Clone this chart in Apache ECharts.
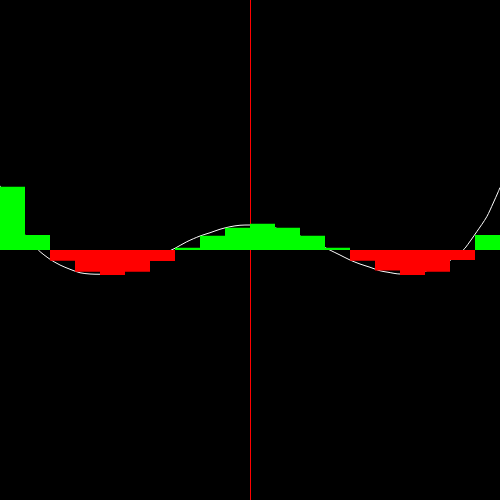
<!DOCTYPE html>
<html>
<head>
<meta charset="utf-8">
<script src="https://cdn.jsdelivr.net/npm/echarts@6/dist/echarts.min.js"></script>
<style>html,body{margin:0;padding:0;background:#000;}#c{width:500px;height:500px;}</style>
</head>
<body>
<div id="c"></div>
<script>
var barCats = ['-10','-9','-8','-7','-6','-5','-4','-3','-2','-1','0','1','2','3','4','5','6','7','8','9'];
var barValues = [2.53, 0.6, -0.43, -0.87, -1.0, -0.87, -0.44, 0.09, 0.57, 0.89, 1.05, 0.89, 0.57, 0.09, -0.43, -0.82, -1.0, -0.87, -0.4, 0.6];
var curveX = [-10, -9.5, -9, -8.47, -8, -7.6, -7.2, -6.8, -6.4, -6, -5.5, -5, -4.5, -4, -3.5, -3, -2.53, -2, -1.6, -1.2, -0.8, -0.4, 0,
              0.4, 0.8, 1.2, 1.6, 2, 2.53, 3.13, 3.6, 4, 4.4, 4.8, 5.2, 5.52, 6, 6.5, 7, 7.5, 8, 8.5, 8.6, 9.07, 9.47, 9.73, 9.93, 10];
var curveY = [2.57, 1.45, 0.6, 0, -0.37, -0.6, -0.77, -0.91, -0.96, -0.97, -0.9, -0.8, -0.62, -0.4, -0.17, 0.07, 0.33, 0.56, 0.69, 0.83, 0.93, 0.99, 1.0,
              0.99, 0.93, 0.83, 0.69, 0.56, 0.33, 0.03, -0.2, -0.4, -0.56, -0.69, -0.83, -0.89, -0.96, -0.95, -0.85, -0.68, -0.42, -0.02, 0.07, 0.73, 1.33, 1.88, 2.33, 2.5];

var curveData = curveX.map(function (x, i) { return [x, curveY[i]]; });

var chart = echarts.init(document.getElementById('c'), null, {renderer: 'canvas'});
chart.setOption({
  backgroundColor: '#000000',
  animation: false,
  grid: {left: 0, right: 0, top: 0, bottom: 0, containLabel: false},
  xAxis: [
    {type: 'category', data: barCats, show: false, boundaryGap: true},
    {type: 'value', min: -10, max: 10, show: false}
  ],
  yAxis: {type: 'value', min: -10, max: 10, show: false},
  series: [
    {
      type: 'line', xAxisIndex: 1, data: curveData, smooth: 0.3, showSymbol: false,
      lineStyle: {color: '#ffffff', width: 1}, z: 1,
      markLine: {
        silent: true, symbol: ['none', 'none'], label: {show: false}, z: 1,
        lineStyle: {color: '#ff0000', width: 1, type: 'solid'},
        data: [{xAxis: 0}]
      }
    },
    {
      type: 'bar', xAxisIndex: 0, data: barValues, barCategoryGap: '0%', z: 10,
      itemStyle: {color: function (p) { return p.value >= 0 ? '#00ff00' : '#ff0000'; }}
    }
  ]
});
</script>
</body>
</html>
